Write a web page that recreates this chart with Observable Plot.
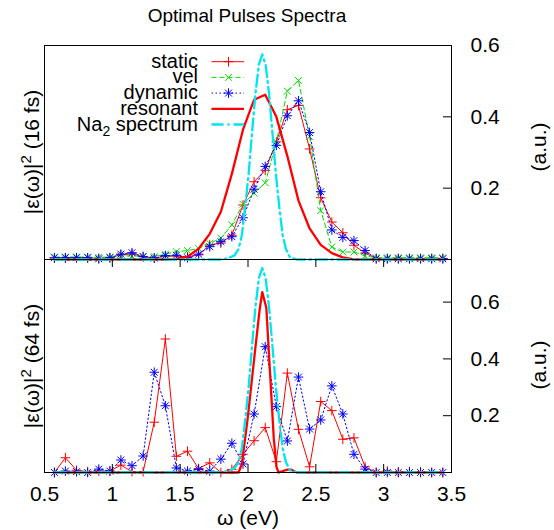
<!DOCTYPE html>
<html><head><meta charset="utf-8">
<script src="https://cdn.jsdelivr.net/npm/d3@7"></script>
<script src="https://cdn.jsdelivr.net/npm/@observablehq/plot@0.6"></script>
<style>
body{margin:0;background:#fff;}
#chart{position:relative;width:554px;height:530px;overflow:hidden;background:#fff;}
#chart svg{position:absolute;left:0;top:0;}
</style></head><body><div id="chart"></div>
<script>
// ---- data ----
const omega = [0.573,0.654,0.736,0.818,0.900,0.982,1.063,1.145,1.227,1.309,1.391,1.472,1.554,1.636,1.718,1.800,1.881,1.963,2.045,2.127,2.209,2.290,2.372,2.454,2.536,2.618,2.699,2.781,2.863,2.945,3.027,3.108,3.190,3.272,3.354,3.436];

// 16 fs panel
const static16 = [0.004,0.004,0.004,0.004,0.003,0.005, 0.013,0.016,0.008,0.004,0.009,0.010, 0.007,0.013,0.041,0.046,0.068,0.153, 0.218,0.250,0.330,0.420,0.432,0.310, 0.173,0.105,0.075,0.040,0.018,0.003, 0.003,0.003,0.003,0.003,0.003,0.003];
const vel16    = [0.007,0.007,0.007,0.007,0.006,0.007, 0.010,0.010,0.009,0.008,0.015,0.022, 0.025,0.031,0.045,0.060,0.097,0.155, 0.186,0.215,0.330,0.472,0.502,0.345, 0.137,0.035,0.021,0.021,0.010,0.005, 0.005,0.005,0.005,0.005,0.005,0.005];
const dyn16    = [0.005,0.005,0.005,0.005,0.002,0.005, 0.015,0.019,0.008,0.004,0.011,0.012, 0.005,0.015,0.036,0.050,0.064,0.117, 0.197,0.261,0.320,0.403,0.445,0.356, 0.190,0.083,0.062,0.053,0.025,0.002, 0.002,0.002,0.002,0.002,0.002,0.002];
const res16    = [0,0,0,0,0,0, 0,0,0,0,0,0.002, 0.008,0.030,0.072,0.134,0.240,0.364, 0.448,0.462,0.400,0.290,0.165,0.087, 0.041,0.018,0.006,0,0,0, 0,0,0,0,0,0];

// 64 fs panel
const static64 = [0,0.052,0.008,0.003,0.005,0.005, 0.026,0.003,0.003,0.177,0.470,0.057, 0.075,0.014,0.034,0.000,0.011,0.064, 0.112,0.158,0.038,0.350,0.152,0.020, 0.250,0.218,0.117,0.122,0.020,0.000, 0.005,0.002,0.003,0.002,0,0];
const dyn64    = [0,0.005,0.003,0,0.012,0.005, 0.044,0.024,0.058,0.353,0.235,0.016, 0.005,0.011,0.005,0.047,0.103,0.030, 0.206,0.443,0.232,0.111,0.336,0.153, 0.185,0.305,0.206,0.064,0.012,0, 0,0,0,0,0,0];
const res64Omega = [0.573,1.930,1.955,2.000,2.050,2.085,2.105,2.135,2.165,2.190,2.210,2.225,2.290,2.320,2.360,3.436];
const res64      = [0,0,0.030,0.200,0.420,0.570,0.635,0.580,0.330,0.120,0.020,0,0.010,0.010,0,0];

// Na2 spectrum (normalised shape, peak heights per panel)
const na2Omega = [0.573,1.800,1.850,1.900,1.930,1.955,1.980,2.005,2.030,2.055,2.080,2.105,2.130,2.155,2.180,2.205,2.230,2.255,2.280,2.310,2.360,3.436];
const na2Shape = [0,0,0.005,0.020,0.050,0.120,0.260,0.420,0.620,0.810,0.950,1,0.950,0.810,0.620,0.420,0.260,0.120,0.050,0.010,0,0];
const na2Peak16 = 0.575;
const na2Peak64 = 0.720;

const xTicks = [0.5,1,1.5,2,2.5,3,3.5];
const yTicks16 = [0.2,0.4,0.6];
const yTicks64 = [0.2,0.4,0.6];

// ---- drawing ----
(function(){
const W = 554, H = 530, ML = 44, MR = 103;
const FONT = '"Liberation Sans", Arial, Helvetica, sans-serif';
const C = {red:"#ff0000", green:"#00e000", blue:"#0000ff", cyan:"#00e5ee"};
const DASH = {vel:"5,3", dyn:"1.5,2.5", na2:"12,4,2,4"};
const RP = 3.2, RX = 3.2;   // marker radii (plus / times)

function rows(xs, cols){ return xs.map((w,i)=>{const o={w}; for(const k in cols) o[k]=cols[k][i]; return o;}); }

function panel(o){
  const m = [];
  m.push(Plot.line(o.main,{x:"w",y:"s",stroke:C.red,strokeWidth:1}));
  m.push(Plot.dot(o.main,{x:"w",y:"s",symbol:"plus",r:RP,stroke:C.red,strokeWidth:1,fill:"none"}));
  if (o.vel){
    m.push(Plot.line(o.main,{x:"w",y:"v",stroke:C.green,strokeWidth:1,strokeDasharray:DASH.vel}));
    m.push(Plot.dot(o.main,{x:"w",y:"v",symbol:"times",r:RX,stroke:C.green,strokeWidth:1,fill:"none"}));
  }
  m.push(Plot.line(o.main,{x:"w",y:"d",stroke:C.blue,strokeWidth:1,strokeDasharray:DASH.dyn}));
  m.push(Plot.dot(o.main,{x:"w",y:"d",symbol:"plus",r:RP,stroke:C.blue,strokeWidth:1,fill:"none"}));
  m.push(Plot.dot(o.main,{x:"w",y:"d",symbol:"times",r:RX,stroke:C.blue,strokeWidth:1,fill:"none"}));
  m.push(Plot.line(o.res,{x:"w",y:"r",stroke:C.red,strokeWidth:2.3}));
  m.push(Plot.line(o.na2,{x:"w",y:"n",stroke:C.cyan,strokeWidth:2.3,strokeDasharray:DASH.na2}));
  m.push(Plot.frame({stroke:"black",strokeWidth:1}));
  m.push(Plot.axisY({anchor:"right",ticks:o.yTicks.filter(t=>t<o.yd[1]-1e-9),tickSize:9,dx:-9,tickFormat:()=>"",label:null,stroke:"black"}));
  m.push(Plot.axisY({anchor:"right",ticks:o.yTicks,tickSize:0,tickPadding:19,fontSize:21,label:null,tickFormat:d3.format(".1f"),fill:"black"}));
  if (o.bottomAxis){
    m.push(Plot.axisX({anchor:"bottom",ticks:xTicks,tickSize:8,dy:-8,tickFormat:()=>"",label:null,stroke:"black"}));
    m.push(Plot.axisX({anchor:"bottom",ticks:xTicks,tickSize:0,tickPadding:14,fontSize:21,label:null,tickFormat:d=>String(d),fill:"black"}));
    m.push(Plot.axisX({anchor:"top",ticks:xTicks,tickSize:7,dy:7,tickFormat:()=>"",label:null,stroke:"black"}));
  }
  return Plot.plot({
    width:W, height:H, marginTop:o.mt, marginBottom:o.mb, marginLeft:ML, marginRight:MR,
    x:{domain:[0.5,3.5], axis:null},
    y:{domain:o.yd, axis:null},
    style:{fontFamily:FONT, fontSize:"21px", background:"transparent", color:"black", overflow:"visible"},
    marks:m
  });
}

const topPlot = panel({
  main: rows(omega,{s:static16,v:vel16,d:dyn16}),
  res: rows(omega,{r:res16}),
  na2: na2Omega.map((w,i)=>({w, n:na2Shape[i]*na2Peak16})),
  vel:true, yd:[0,0.6], yTicks:yTicks16, mt:45, mb:H-259, bottomAxis:false
});
const bottomPlot = panel({
  main: rows(omega,{s:static64,d:dyn64}),
  res: rows(res64Omega,{r:res64}),
  na2: na2Omega.map((w,i)=>({w, n:na2Shape[i]*na2Peak64})),
  vel:false, yd:[0,0.75], yTicks:yTicks64, mt:259, mb:H-472, bottomAxis:true
});

const chart = document.getElementById("chart");
chart.append(topPlot, bottomPlot);

const ov = d3.create("svg").attr("width",W).attr("height",H)
  .style("font-family",FONT).style("font-size","21px").attr("fill","black");

ov.append("text").attr("x",247).attr("y",22).attr("text-anchor","middle").attr("font-size",19).text("Optimal Pulses Spectra");
ov.append("text").attr("x",248).attr("y",525).attr("text-anchor","middle").text("ω (eV)");

function ylab(x, y, dur){
  const t = ov.append("text").attr("transform",`translate(${x},${y}) rotate(-90)`).attr("text-anchor","middle");
  t.append("tspan").text("|ε(ω)|");
  t.append("tspan").attr("dy",-8).attr("font-size",15).text("2");
  t.append("tspan").attr("dy",8).text(` (${dur})`);
}
ylab(39,152,"16 fs");
ylab(39,366,"64 fs");
ov.append("text").attr("transform","translate(546,147) rotate(-90)").attr("text-anchor","middle").text("(a.u.)");
ov.append("text").attr("transform","translate(546,365) rotate(-90)").attr("text-anchor","middle").text("(a.u.)");

const legend = [
  {label:"static", color:C.red, dash:null, w:1, sym:[["plus",RP]]},
  {label:"vel", color:C.green, dash:DASH.vel, w:1, sym:[["times",RX]]},
  {label:"dynamic", color:C.blue, dash:DASH.dyn, w:1, sym:[["plus",RP],["times",RX]]},
  {label:"resonant", color:C.red, dash:null, w:2.3, sym:[]},
  {label:"Na2", color:C.cyan, dash:DASH.na2, w:2.3, sym:[]}
];
const symMap = {plus:d3.symbolPlus, times:d3.symbolTimes};
legend.forEach((e,i)=>{
  const y = 61.7 + i*15.7;
  const t = ov.append("text").attr("x",198).attr("y",y+6).attr("text-anchor","end").attr("font-size",20);
  if (e.label === "Na2"){
    t.append("tspan").text("Na");
    t.append("tspan").attr("dy",5).attr("font-size",14).text("2");
    t.append("tspan").attr("dy",-5).text(" spectrum");
  } else t.text(e.label);
  ov.append("line").attr("x1",211.5).attr("x2",244).attr("y1",y).attr("y2",y)
    .attr("stroke",e.color).attr("stroke-width",e.w).attr("stroke-dasharray",e.dash);
  e.sym.forEach(([s,r])=>{
    ov.append("path").attr("transform",`translate(228.5,${y})`)
      .attr("d",d3.symbol(symMap[s], Math.PI*r*r)()).attr("fill","none").attr("stroke",e.color).attr("stroke-width",1);
  });
});
chart.append(ov.node());
})();
</script>
</body></html>
